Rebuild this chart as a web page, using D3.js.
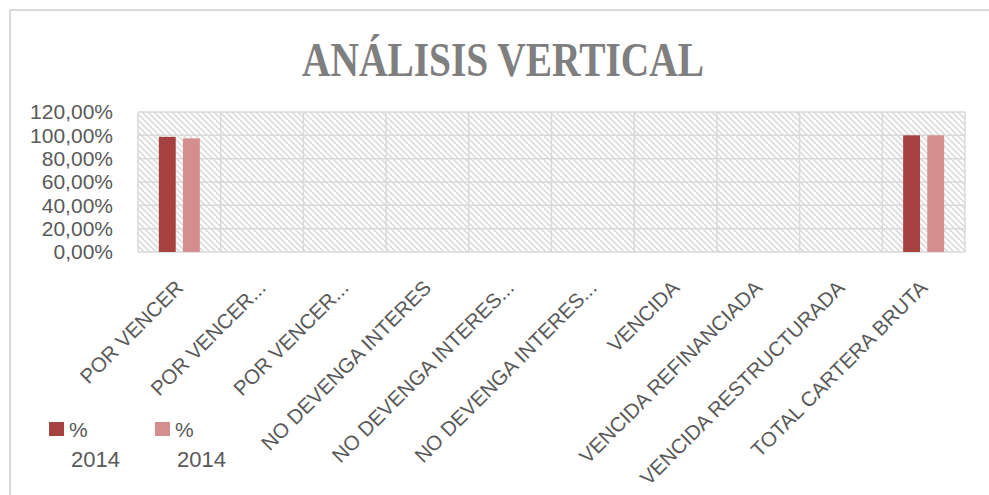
<!DOCTYPE html>
<html>
<head>
<meta charset="utf-8">
<script src="https://cdn.jsdelivr.net/npm/d3@7"></script>
<style>
  html, body { margin: 0; padding: 0; background: #fff; }
  svg { display: block; }
</style>
</head>
<body>
<svg id="chart" width="989" height="495"></svg>
<script>
const categories = [
  "POR VENCER",
  "POR VENCER...",
  "POR VENCER...",
  "NO DEVENGA INTERES",
  "NO DEVENGA INTERES...",
  "NO DEVENGA INTERES...",
  "VENCIDA",
  "VENCIDA REFINANCIADA",
  "VENCIDA RESTRUCTURADA",
  "TOTAL CARTERA BRUTA"
];
const seriesNames = ["% 2014", "% 2014"];
const seriesA = [0.987, 0, 0, 0, 0, 0, 0, 0, 0, 1.0];
const seriesB = [0.974, 0, 0, 0, 0, 0, 0, 0, 0, 1.0];
const yTicks = [0, 0.2, 0.4, 0.6, 0.8, 1.0, 1.2];
const title = "ANÁLISIS VERTICAL";
const colors = ["#A5423F", "#D38E8D"];

const svg = d3.select("#chart");
const W = 989, H = 495;
const plot = { left: 138, right: 965, top: 112, bottom: 252 };

// outer chart border (top & left visible)
svg.append("line").attr("x1", 10).attr("x2", W).attr("y1", 10).attr("y2", 10)
  .attr("stroke", "#d9d9d9").attr("stroke-width", 2);
svg.append("line").attr("x1", 10).attr("x2", 10).attr("y1", 10).attr("y2", H)
  .attr("stroke", "#d9d9d9").attr("stroke-width", 2);

// title
svg.append("text")
  .attr("x", 503).attr("y", 76)
  .attr("text-anchor", "middle")
  .attr("font-family", "'Liberation Serif', 'DejaVu Serif', serif")
  .attr("font-weight", "bold")
  .attr("font-size", 48)
  .attr("fill", "#7f7f7f")
  .attr("textLength", 402)
  .attr("lengthAdjust", "spacingAndGlyphs")
  .text(title);

// hatch pattern
const defs = svg.append("defs");
const pat = defs.append("pattern").attr("id", "hatch")
  .attr("patternUnits", "userSpaceOnUse").attr("width", 6).attr("height", 6);
pat.append("rect").attr("width", 6).attr("height", 6).attr("fill", "#ffffff");
pat.append("path").attr("d", "M-1,-1 L7,7 M-1,5 L1,7 M5,-1 L7,1")
  .attr("stroke", "#d6d6d6").attr("stroke-width", 1.4);

const x = d3.scaleBand().domain(d3.range(categories.length))
  .range([plot.left, plot.right]).paddingInner(0).paddingOuter(0);
const y = d3.scaleLinear().domain([0, 1.2]).range([plot.bottom, plot.top]);
const bw = x.bandwidth();
const xs = d3.scaleBand().domain([0, 1])
  .range([bw / 2 - 20.5, bw / 2 + 20.5]).paddingInner(0.3).paddingOuter(0);

// plot area background
svg.append("rect")
  .attr("x", plot.left).attr("y", plot.top)
  .attr("width", plot.right - plot.left).attr("height", plot.bottom - plot.top)
  .attr("fill", "url(#hatch)");

// horizontal gridlines
svg.append("g").selectAll("line").data(yTicks).join("line")
  .attr("x1", plot.left).attr("x2", plot.right)
  .attr("y1", d => y(d)).attr("y2", d => y(d))
  .attr("stroke", "#d9d9d9").attr("stroke-width", 1.5);

// vertical category separators
svg.append("g").selectAll("line").data(d3.range(categories.length + 1)).join("line")
  .attr("x1", i => i < categories.length ? x(i) : plot.right)
  .attr("x2", i => i < categories.length ? x(i) : plot.right)
  .attr("y1", plot.top).attr("y2", plot.bottom)
  .attr("stroke", "#d9d9d9").attr("stroke-width", 1.5);

// bars
const series = [seriesA, seriesB];
series.forEach((vals, si) => {
  svg.append("g").selectAll("rect").data(vals).join("rect")
    .attr("x", (d, i) => x(i) + xs(si))
    .attr("width", xs.bandwidth())
    .attr("y", d => y(d))
    .attr("height", d => y(0) - y(d))
    .attr("fill", colors[si]);
});

// y axis labels
const yAxis = d3.axisLeft(y).tickValues(yTicks)
  .tickFormat(d => d3.format(".2f")(d * 100).replace(".", ",") + "%")
  .tickSize(0).tickPadding(25);
const yg = svg.append("g").attr("transform", `translate(${plot.left},0)`).call(yAxis);
yg.select(".domain").remove();
yg.selectAll("text")
  .attr("font-family", "'Liberation Sans', Arial, sans-serif")
  .attr("font-size", 21).attr("fill", "#595959");

// category labels
svg.append("g").selectAll("text").data(categories).join("text")
  .attr("transform", (d, i) => `translate(${x(i) + bw / 2},${284}) rotate(-45)`)
  .attr("text-anchor", "end")
  .attr("dy", "0.35em")
  .attr("font-family", "'Liberation Sans', Arial, sans-serif")
  .attr("font-size", 20.5).attr("fill", "#595959")
  .text(d => d);

// legend
const legendX = [49, 155];
seriesNames.forEach((name, i) => {
  const g = svg.append("g").attr("transform", `translate(${legendX[i]},0)`);
  g.append("rect").attr("x", 0).attr("y", 422).attr("width", 15).attr("height", 14)
    .attr("fill", colors[i]);
  const parts = name.split(" ");
  g.append("text").attr("x", 20).attr("y", 437)
    .attr("font-family", "'Liberation Sans', Arial, sans-serif")
    .attr("font-size", 21).attr("fill", "#595959").text(parts[0]);
  g.append("text").attr("x", 22).attr("y", 467)
    .attr("font-family", "'Liberation Sans', Arial, sans-serif")
    .attr("font-size", 22).attr("fill", "#595959").text(parts[1]);
});
</script>
</body>
</html>
